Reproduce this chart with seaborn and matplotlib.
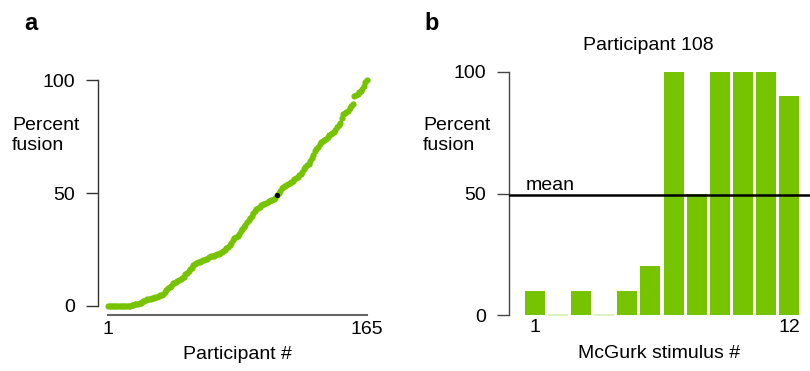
import numpy as np
import pandas as pd
import matplotlib
matplotlib.use("Agg")
import matplotlib.pyplot as plt
import seaborn as sns

# ---- data ----
fusion_sorted = [
    0, 0, 0, 0, 0, 0, 0, 0, 0, 0, 0, 0, 0, 0, 0,
    0.5, 0.5, 1, 1,
    1, 1.5, 1.5, 2, 2, 2.5,
    3, 3, 3, 3.5, 3.5, 4,
    4, 4.5, 5, 5, 5.5,
    6, 7, 8, 8.5, 9,
    10, 10, 10.5, 11, 11.5, 12,
    12.5, 13, 14, 14.5,
    15.5, 16.5, 17, 18, 18.5,
    19, 19.5, 19.5, 20, 20.5,
    20.5, 21, 21, 21.5, 22,
    22, 22, 22.5, 23, 23, 23.5,
    24, 24.5, 25, 25.5, 26,
    27, 28, 29,
    30, 30.5, 31, 32, 33,
    34, 35, 36, 37,
    38, 39, 40, 41,
    42, 43, 43.5, 44, 44.5,
    45, 45, 45.5, 46, 46.5, 47,
    47, 47.5, 48,
    49,
    50, 51, 52, 52.5, 53,
    53.5, 54, 54.5, 55, 55.5, 56,
    56.5, 57, 58, 58.5, 59.5, 60.5,
    61.5, 62.5, 63, 64, 65.5,
    67, 68.5, 69.5, 70.5, 71.5,
    72.5, 73, 73.5, 74, 75,
    75.5, 76, 76.5, 77, 78,
    79, 80, 81, 83, 85,
    85.5, 86, 86.5, 87.5, 88.5, 89.5,
    93, 93.5, 94, 94.5, 95,
    96, 97.5, 99, 100,
]
participants = list(range(1, len(fusion_sorted) + 1))
highlight_participant = 108

stimuli = [str(i) for i in range(1, 13)]
stim_fusion = [10, 0, 10, 0, 10, 20, 100, 50, 100, 100, 100, 90]
mean_fusion = 49.3

x_ticks_a = [1, 165]
y_ticks = [0, 50, 100]

GREEN = "#76C400"
PALE = "#d6edb8"

sns.set_style("white")
plt.rcParams["font.family"] = ["Liberation Sans", "DejaVu Sans"]
plt.rcParams["text.color"] = "black"
plt.rcParams["axes.labelcolor"] = "black"
plt.rcParams["xtick.color"] = "black"
plt.rcParams["ytick.color"] = "black"
FS = 14

W, H = 810, 371
fig = plt.figure(figsize=(W / 100, H / 100), dpi=100)

def px_axes(left, top, right, bottom):
    return fig.add_axes([left / W, 1 - bottom / H, (right - left) / W, (bottom - top) / H])

# ---- panel a ----
axa = px_axes(108, 80, 367, 306)
df_a = pd.DataFrame({"participant": participants, "fusion": fusion_sorted})
sns.scatterplot(data=df_a, x="participant", y="fusion", ax=axa, color=GREEN,
                s=20, linewidth=0, clip_on=False, zorder=2)
hl = df_a[df_a["participant"] == highlight_participant]
sns.scatterplot(data=hl, x="participant", y="fusion", ax=axa, color="black",
                s=14, linewidth=0, clip_on=False, zorder=3)
axa.set_xlim(1, 165)
axa.set_ylim(0, 100)
for s in ["top", "right"]:
    axa.spines[s].set_visible(False)
axa.spines["left"].set_position(("outward", 7.5))
axa.spines["left"].set_bounds(0, 100)
axa.spines["left"].set_color("#333333")
axa.spines["left"].set_linewidth(1.0)
axa.spines["bottom"].set_position(("outward", 6.5))
axa.spines["bottom"].set_bounds(1, 165)
axa.spines["bottom"].set_color("#666666")
axa.spines["bottom"].set_linewidth(1.5)
axa.set_yticks(y_ticks)
axa.set_yticklabels([str(v) for v in y_ticks], fontsize=FS)
axa.set_xticks(x_ticks_a)
axa.set_xticklabels([str(v) for v in x_ticks_a], fontsize=FS)
axa.tick_params(axis="y", length=8.5, width=1.0, color="#333333", pad=8, left=True,
                labelcolor="black")
axa.tick_params(axis="x", length=0, pad=4, bottom=True, labelcolor="black")
axa.set_xlabel("Participant #", fontsize=FS, labelpad=6, color="black")
axa.set_ylabel("")

# ---- panel b ----
xl = -(535 - 509) / 23.09
xr = 11 + (810 - 789) / 23.09
axb = px_axes(509, 72, 810, 315)
df_b = pd.DataFrame({"stimulus": stimuli, "fusion": stim_fusion})
sns.barplot(data=df_b, x="stimulus", y="fusion", ax=axb, color=GREEN,
            width=0.87, saturation=1, linewidth=0, edgecolor="none")
for p, v in zip(axb.patches, stim_fusion):
    if v == 0:
        p.set_edgecolor(PALE)
        p.set_linewidth(1.2)
        p.set_clip_on(False)
axb.axhline(mean_fusion, color="black", linewidth=1.8, zorder=5)
axb.set_xlim(xl, xr)
axb.set_ylim(0, 100)
for s in ["top", "right", "bottom"]:
    axb.spines[s].set_visible(False)
axb.spines["left"].set_color("#444444")
axb.spines["left"].set_linewidth(1.0)
axb.set_yticks(y_ticks)
axb.set_yticklabels([str(v) for v in y_ticks], fontsize=FS)
axb.set_xticks([0, 11])
axb.set_xticklabels([stimuli[0], stimuli[-1]], fontsize=FS)
axb.tick_params(axis="y", length=8.5, width=1.0, color="#444444", pad=8, left=True,
                labelcolor="black")
axb.tick_params(axis="x", length=0, pad=3, labelcolor="black")
axb.set_xlabel("McGurk stimulus #", fontsize=FS, labelpad=6, color="black")
axb.set_ylabel("")
axb.text(526 / W, 1 - 190 / H, "mean", transform=fig.transFigure, fontsize=FS,
         ha="left", va="baseline", color="black")

# ---- figure texts ----
fig.text(12 / W, 1 - 150 / H, "Percent\nfusion", fontsize=FS, ha="left",
         va="baseline", linespacing=1.2, color="black")
fig.text(423 / W, 1 - 150 / H, "Percent\nfusion", fontsize=FS, ha="left",
         va="baseline", linespacing=1.2, color="black")
fig.text(648 / W, 1 - 50 / H, "Participant 108", fontsize=FS, ha="center",
         va="baseline", color="black")
fig.text(24 / W, 1 - 30 / H, "a", fontsize=17, fontweight="bold", ha="left",
         va="baseline", color="black")
fig.text(424 / W, 1 - 30 / H, "b", fontsize=17, fontweight="bold", ha="left",
         va="baseline", color="black")

fig.savefig("out.png", dpi=100)
